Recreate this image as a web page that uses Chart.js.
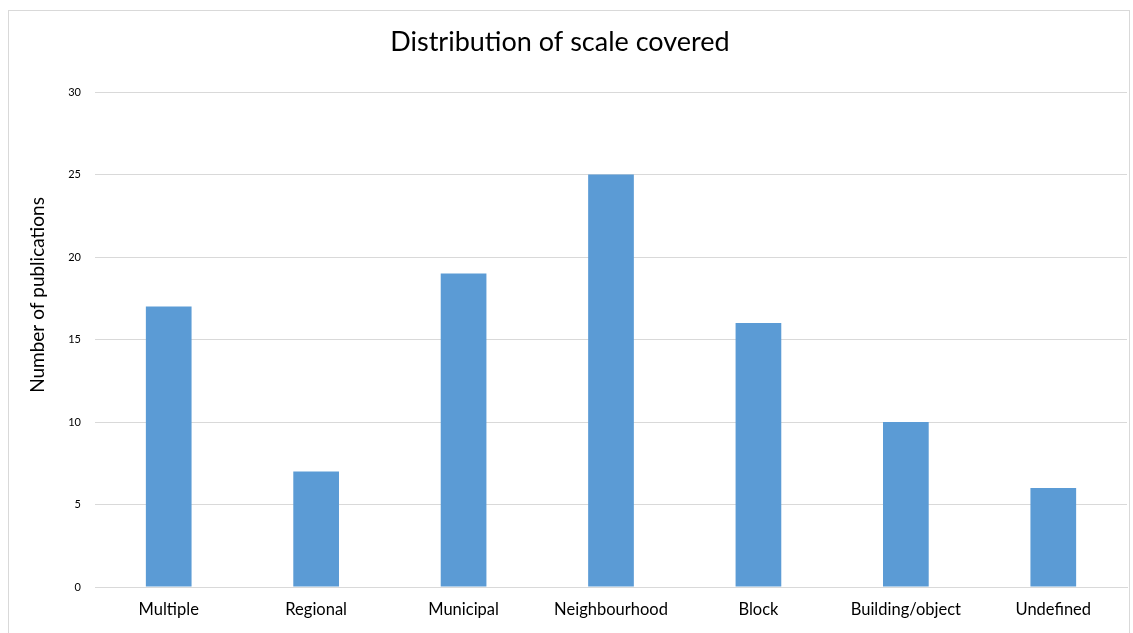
<!DOCTYPE html>
<html>
<head>
<meta charset="utf-8">
<script src="https://cdn.jsdelivr.net/npm/chart.js@4"></script>
<style>
  html, body { margin: 0; padding: 0; background: #fff; overflow: hidden; }
  #frame { position: absolute; left: 8px; top: 10px; width: 1122px; height: 640px; border: 1px solid #d9d9d9; box-sizing: border-box; }
  #wrap { position: absolute; left: 0; top: 0; width: 1133px; height: 633px; }
</style>
</head>
<body>
<div id="frame"></div>
<div id="wrap"><canvas id="c" width="1133" height="633"></canvas></div>
<script>
// Publications per spatial scale
const categories = ['Multiple', 'Regional', 'Municipal', 'Neighbourhood', 'Block', 'Building/object', 'Undefined'];
const publications = [17, 7, 19, 25, 16, 10, 6];
const yTicks = [0, 5, 10, 15, 20, 25, 30];
const chartTitle = 'Distribution of scale covered';
const yAxisTitle = 'Number of publications';

const FONT = 'Lato, "Open Sans", sans-serif';

// Draws the chart title and the rotated y-axis title in fixed spots
const headings = {
  id: 'headings',
  afterDraw(chart) {
    const ctx = chart.ctx;
    ctx.save();
    ctx.fillStyle = '#000';
    ctx.textAlign = 'center';
    ctx.textBaseline = 'middle';
    ctx.font = '27px ' + FONT;
    ctx.fillText(chartTitle, 560, 42);
    ctx.translate(38, 295);
    ctx.rotate(-Math.PI / 2);
    ctx.font = '19px ' + FONT;
    ctx.fillText(yAxisTitle, 0, 0);
    ctx.restore();
  }
};

new Chart(document.getElementById('c'), {
  type: 'bar',
  data: {
    labels: categories,
    datasets: [{
      label: yAxisTitle,
      data: publications,
      backgroundColor: '#5B9BD5',
      borderWidth: 0,
      categoryPercentage: 1,
      barPercentage: 0.31
    }]
  },
  plugins: [headings],
  options: {
    responsive: false,
    animation: false,
    layout: { padding: { left: 20, right: 6, top: 92, bottom: 0 } },
    plugins: {
      legend: { display: false },
      tooltip: { enabled: false },
      title: { display: false }
    },
    scales: {
      x: {
        grid: { display: false, drawTicks: false },
        border: { display: true, color: '#d9d9d9', width: 1 },
        ticks: { color: '#000', font: { family: FONT, size: 16.5 }, padding: 13, maxRotation: 0, autoSkip: false },
        afterFit: s => { s.height = 46; }
      },
      y: {
        min: 0,
        max: 30,
        afterBuildTicks: s => { s.ticks = yTicks.map(v => ({ value: v })); },
        grid: { color: '#d9d9d9', drawTicks: false },
        border: { display: false },
        ticks: { color: '#000', font: { family: FONT, size: 11 }, padding: 14 },
        afterFit: s => { s.width = 75; }
      }
    }
  }
});
</script>
</body>
</html>
